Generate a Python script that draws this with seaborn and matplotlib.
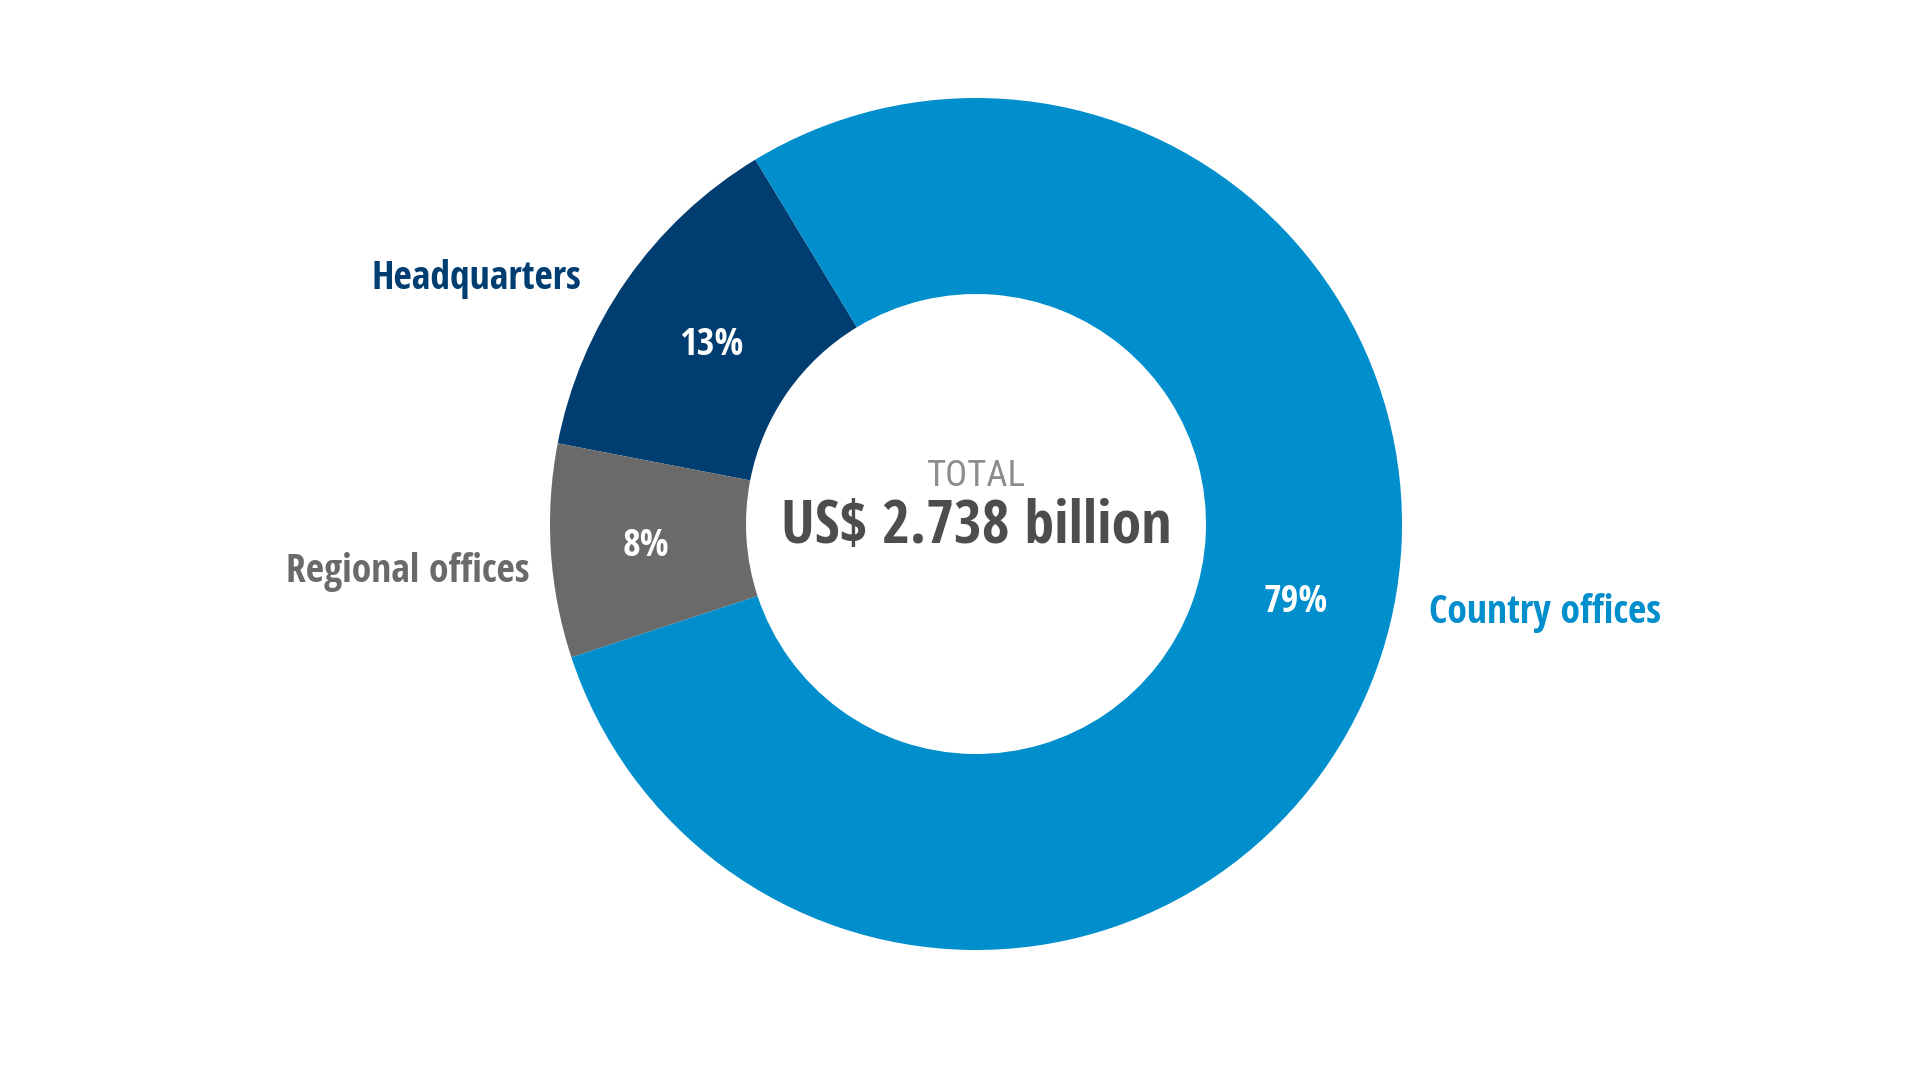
import matplotlib
matplotlib.use("Agg")
import matplotlib.pyplot as plt
from matplotlib import font_manager
import seaborn as sns
import numpy as np

# ---- data ----
categories = ["Headquarters", "Regional offices", "Country offices"]
shares = [13.3, 8.1, 78.6]
pct_labels = ["13%", "8%", "79%"]
total_label = "TOTAL"
total_value = "US$ 2.738 billion"

colors = ["#003D70", "#6A6A6A", "#008ECC"]

sns.set_theme(style="white")
fonts = font_manager.fontManager.ttflist
available = {f.name for f in fonts}
family = "DejaVu Sans"
for cand in ["Open Sans Condensed", "Roboto Condensed", "Liberation Sans Narrow", "Open Sans"]:
    if cand in available:
        family = cand
        break
plt.rcParams["font.family"] = [family, "DejaVu Sans"]

# a regular-weight narrow face for the "TOTAL" caption
light_family = "Open Sans"
for cand in ["Liberation Sans Narrow", "Roboto Condensed", "Open Sans"]:
    if cand in available:
        light_family = cand
        break

W, H = 1920, 1085
fig = plt.figure(figsize=(W / 100, H / 100), dpi=100)
ax = fig.add_axes([0, 0, 1, 1])

cx, cy = 976, H - 524
R = 426
ring = (426 - 230) / 426

wedges, _ = ax.pie(shares, colors=colors, startangle=121.2, counterclock=True,
                   radius=R, center=(cx, cy),
                   wedgeprops=dict(width=R * ring, linewidth=0))
ax.set_xlim(0, W)
ax.set_ylim(0, H)
ax.set_aspect("equal")
ax.axis("off")

# percent labels inside the ring (baseline positions)
pct_pos = [(711, H - 355), (646, H - 556), (1296, H - 612)]
for lab, (x, y) in zip(pct_labels, pct_pos):
    ax.text(x, y, lab, color="white", fontsize=27.5, fontweight="bold",
            ha="center", va="baseline")

# category labels
lab_fs = 28.5
ax.text(581, H - 289, categories[0], color=colors[0], fontsize=lab_fs,
        fontweight="bold", ha="right", va="baseline")
ax.text(530, H - 582, categories[1], color=colors[1], fontsize=lab_fs,
        fontweight="bold", ha="right", va="baseline")
ax.text(1429, H - 623, categories[2], color=colors[2], fontsize=lab_fs,
        fontweight="bold", ha="left", va="baseline")

# centre text
t = ax.text(cx, H - 486, total_label, color="#8C8C8C", fontsize=28,
            family=[light_family, "DejaVu Sans"], fontweight="normal",
            ha="center", va="baseline")
fig.canvas.draw()
bb = t.get_window_extent()
if bb.width > 0:
    t.set_fontsize(28 * min(1.0, 99.0 / bb.width))

ax.text(cx, H - 543, total_value, color="#4D4D4D", fontsize=43.2,
        fontweight="bold", ha="center", va="baseline")

fig.savefig("out.png", dpi=100, facecolor="white")
